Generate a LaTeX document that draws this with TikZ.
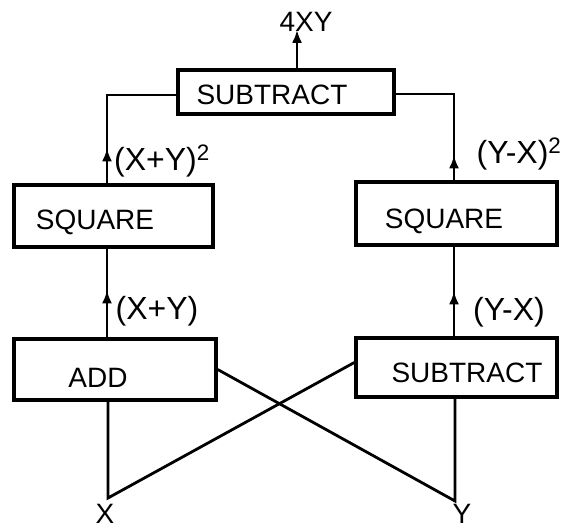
\documentclass[tikz,border=0pt]{standalone}
\usepackage{fontspec}
\setmainfont{Liberation Sans}
\usetikzlibrary{arrows.meta,calc}
\begin{document}
\begin{tikzpicture}[x=1pt,y=1pt,
  box/.style={draw, line width=3.4pt, inner sep=0pt},
  wire/.style={line width=2.8pt},
  tip/.style={wire,-{Latex[length=13pt,width=10pt]}},
  lbl/.style={inner sep=0pt, font=\fontsize{28}{30}\selectfont},
  plbl/.style={inner sep=0pt, font=\fontsize{32}{34}\selectfont},
  xlbl/.style={inner sep=0pt, font=\fontsize{28}{30}\selectfont}]
\useasboundingbox (0,0) rectangle (564,531);
% boxes
\node[box, minimum width=216pt, minimum height=44pt] (top) at (286,439) {};
\node[box, minimum width=199pt, minimum height=62pt] (sqL) at (113.5,315) {};
\node[box, minimum width=201pt, minimum height=63pt] (sqR) at (456.5,317.5) {};
\node[box, minimum width=202pt, minimum height=61pt] (add) at (115,161.5) {};
\node[box, minimum width=201pt, minimum height=59pt] (subR) at (456.5,163.5) {};
% box texts
\node[lbl] (ttop) at (272,436) {SUBTRACT};
\node[lbl] (tsqL) at (95,309) {SQUARE};
\node[lbl] (tsqR) at (444,310) {SQUARE};
\node[lbl] (tadd) at (98,153) {ADD};
\node[lbl] (tsub) at (467,158) {SUBTRACT};
% signal labels
\node[lbl] (out) at (306,509) {4XY};
\node[plbl] (lsq) at (162,370) {(X+Y)\textsuperscript{2}};
\node[plbl] (rsq) at (519,377) {(Y-X)\textsuperscript{2}};
\node[plbl] (lsum) at (157,220) {(X+Y)};
\node[plbl] (rdif) at (509,219) {(Y-X)};
\node[xlbl, anchor=south] (lx) at (105,7) {X};
\node[xlbl, anchor=south] (ly) at (462,7) {Y};
% line positions
\coordinate (cl) at (107,0);
\coordinate (cr) at (454,0);
\coordinate (xin) at (108,33);
\coordinate (yin) at (455,30);
% left chain
\draw[wire] (add.north -| cl) -- (sqL.south -| cl);
\draw[tip] (add.north -| cl) -- ++(0,47);
\draw[wire] (sqL.north -| cl) |- ($(top.west)+(0,-3)$);
\draw[tip] (sqL.north -| cl) -- ++(0,35);
% right chain
\draw[wire] (subR.north -| cr) -- (sqR.south -| cr);
\draw[tip] (subR.north -| cr) -- ++(0,45);
\draw[wire] (sqR.north -| cr) |- ($(top.east)+(0,-2)$);
\draw[tip] (sqR.north -| cr) -- ++(0,25);
% output
\draw[tip] ($(top.north)+(11,0)$) -- ($(out.south)+(-9,2)$);
% inputs
\draw[wire] (add.south -| xin) -- (xin) -- ($(subR.west)+(0,5)$);
\draw[wire] (subR.south -| yin) -- (yin) -- (add.east);
\end{tikzpicture}
\end{document}
